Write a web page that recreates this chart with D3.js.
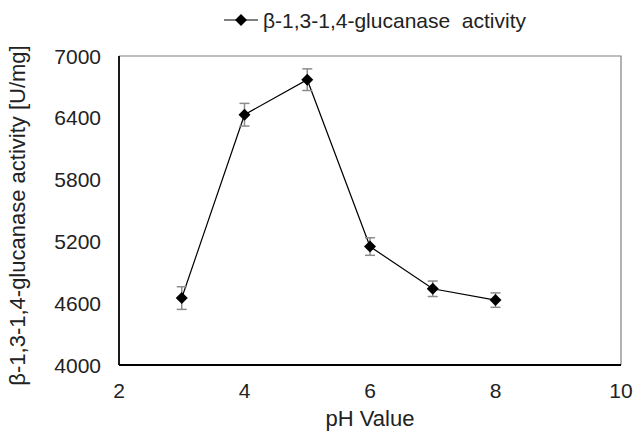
<!DOCTYPE html>
<html lang="en">
<head>
    <meta charset="UTF-8">
    <title>pH activity</title>
    <script src="https://d3js.org/d3.v7.min.js"></script>
    <style>
        body { margin: 0; background: #ffffff; }
        svg { display: block; font-family: 'Liberation Sans', Arial, sans-serif; }
        .tick-label { font-size: 21px; fill: #222; }
        .axis-title { font-size: 22px; fill: #222; }
        .legend-label { font-size: 21px; fill: #222; }
    </style>
</head>
<body>
    <svg width="644" height="432"></svg>

    <script>
        // datos
        const phValues = [3, 4, 5, 6, 7, 8];
        const activity = [4650, 6430, 6770, 5150, 4740, 4630];
        const errors = [110, 110, 105, 85, 75, 70];
        const xTicks = [2, 4, 6, 8, 10];
        const yTicks = [4000, 4600, 5200, 5800, 6400, 7000];
        const seriesName = "β-1,3-1,4-glucanase  activity";

        const width = 644;
        const height = 432;
        const margin = { top: 56, right: 23, bottom: 67, left: 119 };

        const svg = d3.select("svg");

        const x = d3.scaleLinear().domain([2, 10]).range([margin.left, width - margin.right]);
        const y = d3.scaleLinear().domain([4000, 7000]).range([height - margin.bottom, margin.top]);

        // marco gris arriba y a la derecha
        svg.append("path")
            .attr("d", `M${x(2)},${y(7000)}H${x(10)}V${y(4000)}`)
            .attr("fill", "none")
            .attr("stroke", "#808080")
            .attr("stroke-width", 1.2);

        // ejes
        svg.append("line")
            .attr("x1", x(2)).attr("x2", x(2))
            .attr("y1", y(7000)).attr("y2", y(4000))
            .attr("stroke", "#000").attr("stroke-width", 1.8);
        svg.append("line")
            .attr("x1", x(2)).attr("x2", x(10))
            .attr("y1", y(4000)).attr("y2", y(4000))
            .attr("stroke", "#000").attr("stroke-width", 1.8);

        svg.selectAll(".ylab")
            .data(yTicks)
            .enter()
            .append("text")
            .attr("class", "tick-label")
            .attr("x", x(2) - 18)
            .attr("y", d => y(d))
            .attr("dy", "0.36em")
            .attr("text-anchor", "end")
            .text(d => d);

        svg.selectAll(".xlab")
            .data(xTicks)
            .enter()
            .append("text")
            .attr("class", "tick-label")
            .attr("x", d => x(d))
            .attr("y", y(4000) + 33)
            .attr("text-anchor", "middle")
            .text(d => d);

        svg.append("text")
            .attr("class", "axis-title")
            .attr("x", x(6))
            .attr("y", 426)
            .attr("text-anchor", "middle")
            .text("pH Value");

        svg.append("text")
            .attr("class", "axis-title")
            .attr("transform", `translate(25,${(y(4000) + y(7000)) / 2 + 5}) rotate(-90)`)
            .attr("text-anchor", "middle")
            .text("β-1,3-1,4-glucanase activity [U/mg]");

        const data = phValues.map((p, i) => ({ p, v: activity[i], e: errors[i] }));

        // linea
        svg.append("path")
            .datum(data)
            .attr("fill", "none")
            .attr("stroke", "#000")
            .attr("stroke-width", 1.2)
            .attr("d", d3.line().x(d => x(d.p)).y(d => y(d.v)));

        // barras de error
        const eb = svg.append("g").attr("stroke", "#8c8c8c").attr("stroke-width", 1.5);
        data.forEach(d => {
            eb.append("line")
                .attr("x1", x(d.p)).attr("x2", x(d.p))
                .attr("y1", y(d.v + d.e)).attr("y2", y(d.v - d.e));
            [d.v + d.e, d.v - d.e].forEach(val => {
                eb.append("line")
                    .attr("x1", x(d.p) - 5).attr("x2", x(d.p) + 5)
                    .attr("y1", y(val)).attr("y2", y(val));
            });
        });

        const diamond = d3.symbol().type(d3.symbolSquare).size(72);

        svg.selectAll(".pt")
            .data(data)
            .enter()
            .append("path")
            .attr("d", diamond)
            .attr("transform", d => `translate(${x(d.p)},${y(d.v)}) rotate(45)`)
            .attr("fill", "#000");

        // leyenda
        const lg = svg.append("g").attr("transform", "translate(224,20)");
        lg.append("line").attr("x1", 0).attr("x2", 34).attr("y1", 0).attr("y2", 0)
            .attr("stroke", "#000").attr("stroke-width", 1.2);
        lg.append("path").attr("d", diamond).attr("transform", "translate(17,0) rotate(45)").attr("fill", "#000");
        lg.append("text")
            .attr("class", "legend-label")
            .attr("x", 39)
            .attr("dy", "0.36em")
            .style("white-space", "pre")
            .text(seriesName);
    </script>
</body>
</html>
